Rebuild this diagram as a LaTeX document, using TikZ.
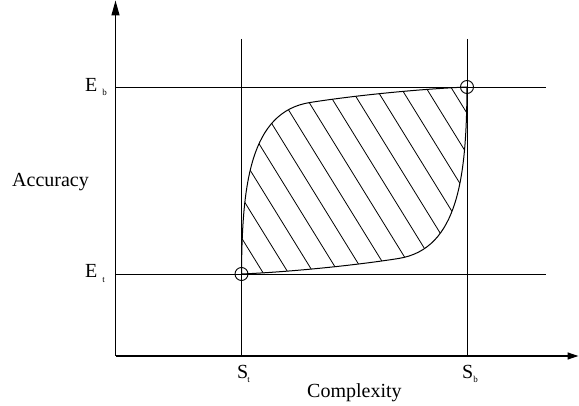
\documentclass[tikz,border=0pt]{standalone}
\usepackage{fontspec}
\setmainfont{Liberation Serif}
\usetikzlibrary{arrows.meta}
\begin{document}
\begin{tikzpicture}[x=1pt,y=-1pt,
  axis/.style={line width=1.2pt},
  gridline/.style={line width=0.8pt},
  curveline/.style={line width=1pt},
  hatchline/.style={line width=0.8pt},
  markcircle/.style={circle, draw, line width=0.9pt, minimum size=13pt, inner sep=0pt},
  lbl/.style={anchor=base west, inner sep=0pt, font=\fontsize{20}{24}\selectfont},
]
\useasboundingbox (0,0) rectangle (579,406);
% axes
\coordinate (O) at (115.5,356);
\coordinate (Ytop) at (115.5,0.5);
\coordinate (Xend) at (578.5,356);
\draw[axis, -{Triangle[length=15pt,width=8pt]}] (O) -- (Ytop);
\draw[axis, -{Triangle[length=11pt,width=7pt]}] (O) -- (Xend);
% grid lines
\coordinate (V1top) at (241.5,39);  \coordinate (V1bot) at (241.5,356);
\coordinate (V2top) at (467,39);    \coordinate (V2bot) at (467,356);
\coordinate (H1l) at (115.5,87);    \coordinate (H1r) at (546,87);
\coordinate (H2l) at (115.5,274);   \coordinate (H2r) at (546,274);
\draw[gridline] (V1top) -- (V1bot);
\draw[gridline] (V2top) -- (V2bot);
\draw[gridline] (H1l) -- (H1r);
\draw[gridline] (H2l) -- (H2r);
% region
\coordinate (A) at (241.5,274);
\coordinate (B) at (467,87);
\def\regionpath{(A) .. controls (242,185) and (250,112) .. (310,102.5)
  .. controls (355,95.4) and (420,89) .. (B)
  .. controls (466.5,176) and (458.5,249) .. (398.5,258.5)
  .. controls (353.5,265.6) and (288.5,272) .. (A) -- cycle}
\begin{scope}
  \clip \regionpath;
  \foreach \j in {-6,...,6}
    \draw[hatchline] ({357+25.2*\j-100},18) -- ({357+25.2*\j+100},342);
\end{scope}
\draw[curveline] \regionpath;
% circles
\node[markcircle] (Cb) at (B) {};
\node[markcircle] (Ct) at (A) {};
% labels
\node[lbl] (Eb) at (85,92) {E\hspace{5pt}\raisebox{-4pt}{\fontsize{9}{9}\selectfont b}};
\node[lbl] (Et) at (85,278) {E\hspace{5pt}\raisebox{-5pt}{\fontsize{9}{9}\selectfont t}};
\node[lbl] (St) at (237,378) {S\kern-1pt\raisebox{-4pt}{\fontsize{9}{9}\selectfont t}};
\node[lbl] (Sb) at (462,378) {S\raisebox{-4pt}{\fontsize{9}{9}\selectfont b}};
\node[lbl] (acc) at (12,186.5) {Accuracy};
\node[lbl] (cx) at (307,397) {Complexity};
\end{tikzpicture}
\end{document}
